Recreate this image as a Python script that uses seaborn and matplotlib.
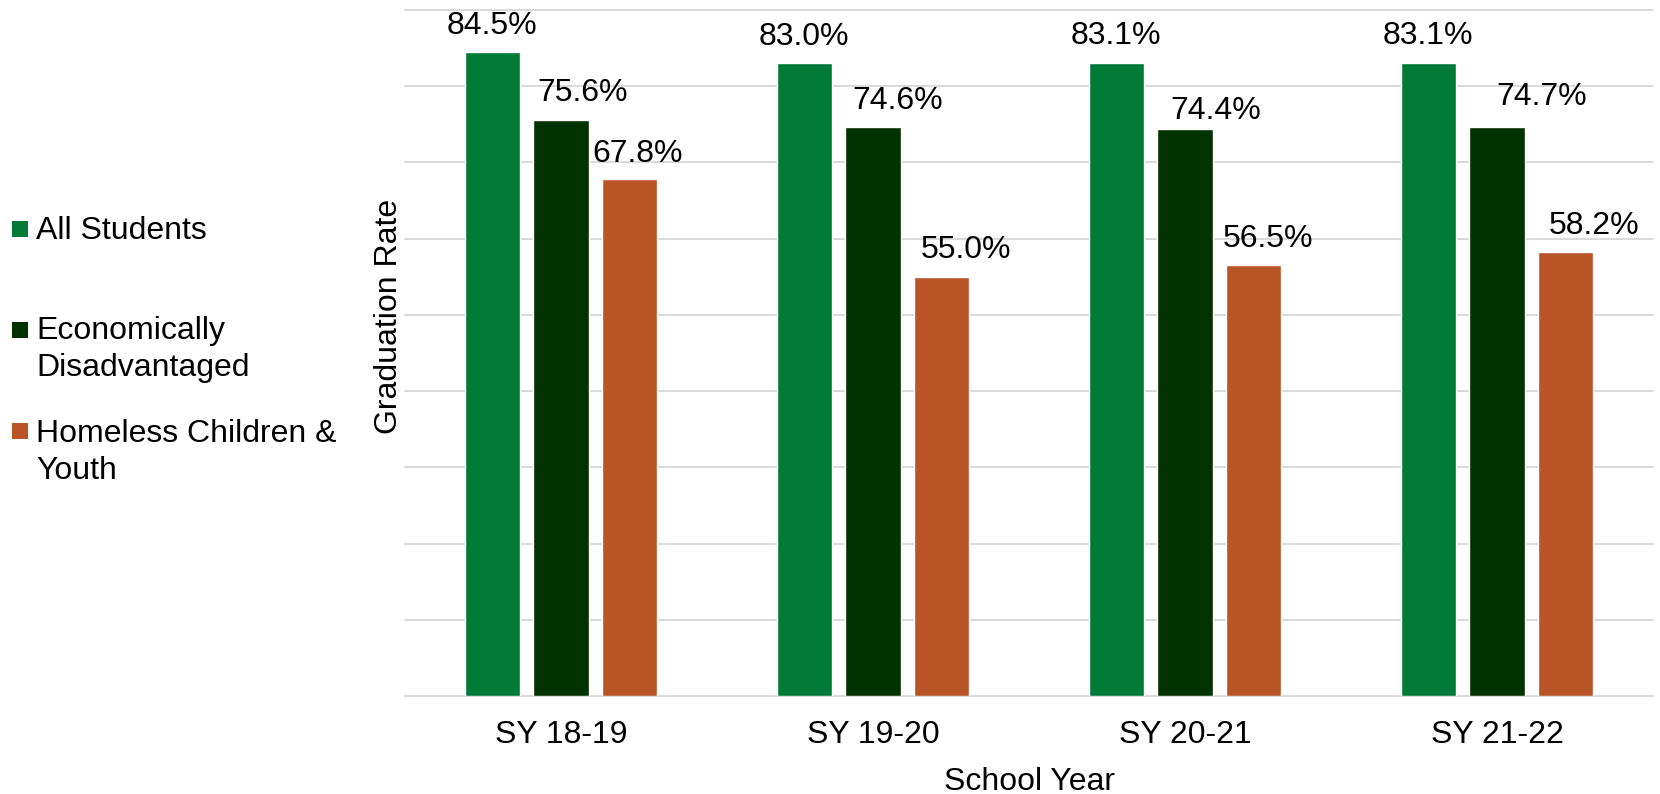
import matplotlib
matplotlib.use("Agg")
import matplotlib.pyplot as plt
import matplotlib.patches as mpatches
import seaborn as sns
import pandas as pd

# ---------------- data ----------------
years = ["SY 18-19", "SY 19-20", "SY 20-21", "SY 21-22"]
groups = ["All Students", "Economically\nDisadvantaged", "Homeless Children &\nYouth"]
all_students = [84.5, 83.0, 83.1, 83.1]
econ_disadv = [75.6, 74.6, 74.4, 74.7]
homeless = [67.8, 55.0, 56.5, 58.2]
y_ticks = [0, 10, 20, 30, 40, 50, 60, 70, 80, 90]
x_title = "School Year"
y_title = "Graduation Rate"

# ---------------- style ----------------
colors = ["#007A37", "#003300", "#B85426"]
grid_color = "#D9D9D9"
FS = 23
W, H = 1660, 794

# manual data-label offsets (pixels) as placed in the reference
label_dx = [[0, 0, 0, 0], [22, 25, 31, 45], [8, 24, 14, 28]]
label_dy = [[18, 18, 19, 19], [19, 18, 10, 22], [17, 19, 18, 18]]

sns.set_style("white")
plt.rcParams["font.family"] = ["Liberation Sans", "DejaVu Sans"]

df = pd.DataFrame({
    "year": years * 3,
    "rate": all_students + econ_disadv + homeless,
    "group": [groups[0]] * 4 + [groups[1]] * 4 + [groups[2]] * 4,
})

fig = plt.figure(figsize=(W / 100, H / 100), dpi=100)
ax_left, ax_right, ax_top, ax_bottom = 405, 1653, 10, 696
ax = fig.add_axes([ax_left / W, 1 - ax_bottom / H,
                   (ax_right - ax_left) / W, (ax_bottom - ax_top) / H])

sns.barplot(data=df, x="year", y="rate", hue="group", order=years,
            hue_order=groups, palette=colors, width=0.66, gap=0.19,
            saturation=1, legend=False, ax=ax)

ax.set_ylim(0, 90)
ax.set_yticks(y_ticks)
ax.set_yticklabels([])
ax.tick_params(axis="y", length=0)
ax.tick_params(axis="x", length=0, labelsize=FS, pad=17, colors="black")
ax.set_axisbelow(True)
ax.yaxis.grid(True, color=grid_color, linewidth=1.4)
ax.xaxis.grid(False)
for ln in ax.get_ygridlines():
    ln.set_clip_on(False)
for s in ax.spines.values():
    s.set_visible(False)

ax.set_xlabel(x_title, fontsize=FS, color="black")
ax.xaxis.set_label_coords(0.5, -0.103)
ax.set_ylabel(y_title, fontsize=FS, color="black", va="center")
ax.yaxis.set_label_coords(-0.0128, 0.554)

# data labels
for si, cont in enumerate(ax.containers):
    for yi, bar in enumerate(cont):
        h = bar.get_height()
        ax.annotate(f"{h:.1f}%", xy=(bar.get_x() + bar.get_width() / 2, h),
                    xytext=(label_dx[si][yi], label_dy[si][yi]),
                    textcoords="offset pixels", ha="center", va="baseline",
                    fontsize=FS, color="black", annotation_clip=False)

# legend (marker aligned to first text line, as in reference)
leg_marker_top = [221, 322, 423]
leg_baseline = [239, 339, 442]
line_step = 37
for i, g in enumerate(groups):
    fig.add_artist(mpatches.Rectangle((12 / W, 1 - (leg_marker_top[i] + 16) / H),
                                      16 / W, 16 / H, transform=fig.transFigure,
                                      facecolor=colors[i], edgecolor="none"))
    for k, line in enumerate(g.split("\n")):
        fig.text(36 / W, 1 - (leg_baseline[i] + k * line_step) / H, line,
                 fontsize=FS, color="black", ha="left", va="baseline")

fig.savefig("out.png", dpi=100)
